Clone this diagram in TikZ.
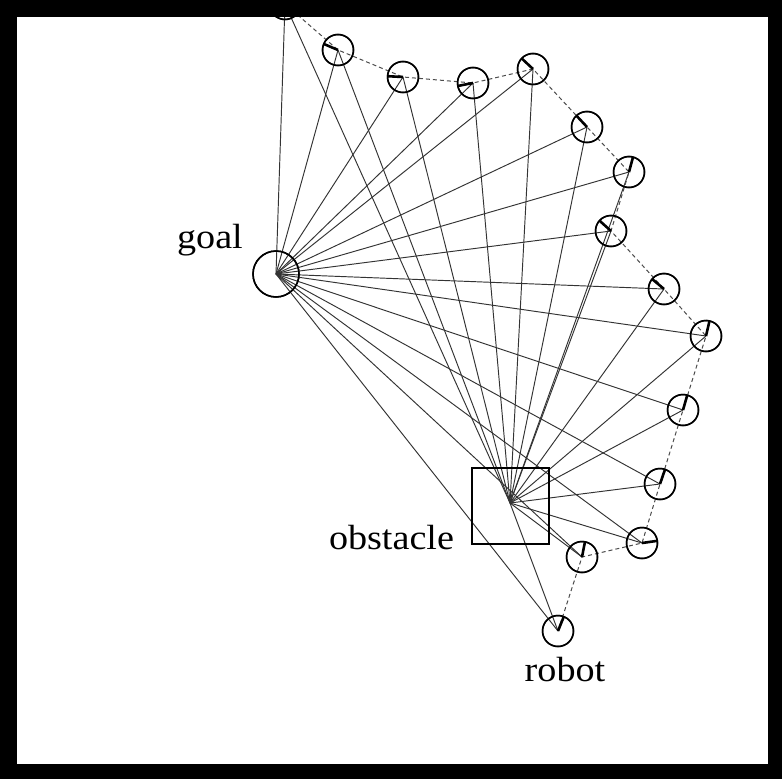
\documentclass[tikz,border=0pt]{standalone}
\usepackage{fontspec}
\setmainfont{Liberation Serif}
\begin{document}
\begin{tikzpicture}[x=1pt,y=-1pt,
  poscirc/.style={circle,draw=black,line width=1.5pt,minimum size=31pt,inner sep=0pt,outer sep=0pt},
  goalc/.style={circle,draw=black,line width=1.5pt,minimum size=46pt,inner sep=0pt,outer sep=0pt},
  obst/.style={rectangle,draw=black,line width=1.5pt,minimum width=77pt,minimum height=76pt,inner sep=0pt,outer sep=0pt},
  ray/.style={draw=black!80,line width=0.95pt},
  trail/.style={draw=black!70,line width=1pt,dash pattern=on 4pt off 3pt},
  heading/.style={draw=black,line width=2.6pt},
  lbl/.style={anchor=base,inner sep=0pt,font=\fontsize{35}{40}\selectfont}]
\useasboundingbox (0,0) rectangle (782,779);
\fill[black] (0,0) rectangle (782,779);
\fill[white] (17,17) rectangle (768,764);
\begin{scope}
\clip (17,17) rectangle (768,764);
% positions
\node[goalc] (g) at (276,274) {};
\node[obst] (o) at (510.5,506) {};
\coordinate (oc) at (510,503);
\foreach \n/\px/\py in {1/285/4,2/338/50,3/403/77,4/473/83,5/533/69,6/587/127,7/629/172,8/611/231,9/664/289,10/706/336,11/683/410,12/660/484,13/642/543,14/582/557,15/558/631}
  \node[poscirc] (p\n) at (\px,\py) {};
% rays to goal and obstacle
\foreach \n in {1,...,15}{
  \draw[ray] (p\n.center) -- (g.center);
  \draw[ray] (p\n.center) -- (oc);
}
% trail
\draw[trail] (p15.center) -- (p14.center) -- (p13.center) -- (p12.center) -- (p11.center) -- (p10.center) -- (p9.center) -- (p8.center) -- (p7.center) -- (p6.center) -- (p5.center) -- (p4.center) -- (p3.center) -- (p2.center) -- (p1.center);
% redraw circles on top
\foreach \n in {1,...,15} \node[poscirc] at (p\n) {};
\node[goalc] at (g) {};
\node[obst] at (o) {};
% headings
\foreach \n/\a in {2/157,3/177,4/191,5/137,6/133,7/75,8/138,9/140,10/77,11/74,12/71,13/8,14/79,15/68}
  \draw[heading] (p\n.center) -- (p\n.\a);
\end{scope}
% labels
\node[lbl] (tg) at (210,248) {\scalebox{1.09}[1]{goal}};
\node[lbl] (to) at (391.5,549) {\scalebox{1.09}[1]{obstacle}};
\node[lbl] (tr) at (565,681) {\scalebox{1.09}[1]{robot}};
\end{tikzpicture}
\end{document}
